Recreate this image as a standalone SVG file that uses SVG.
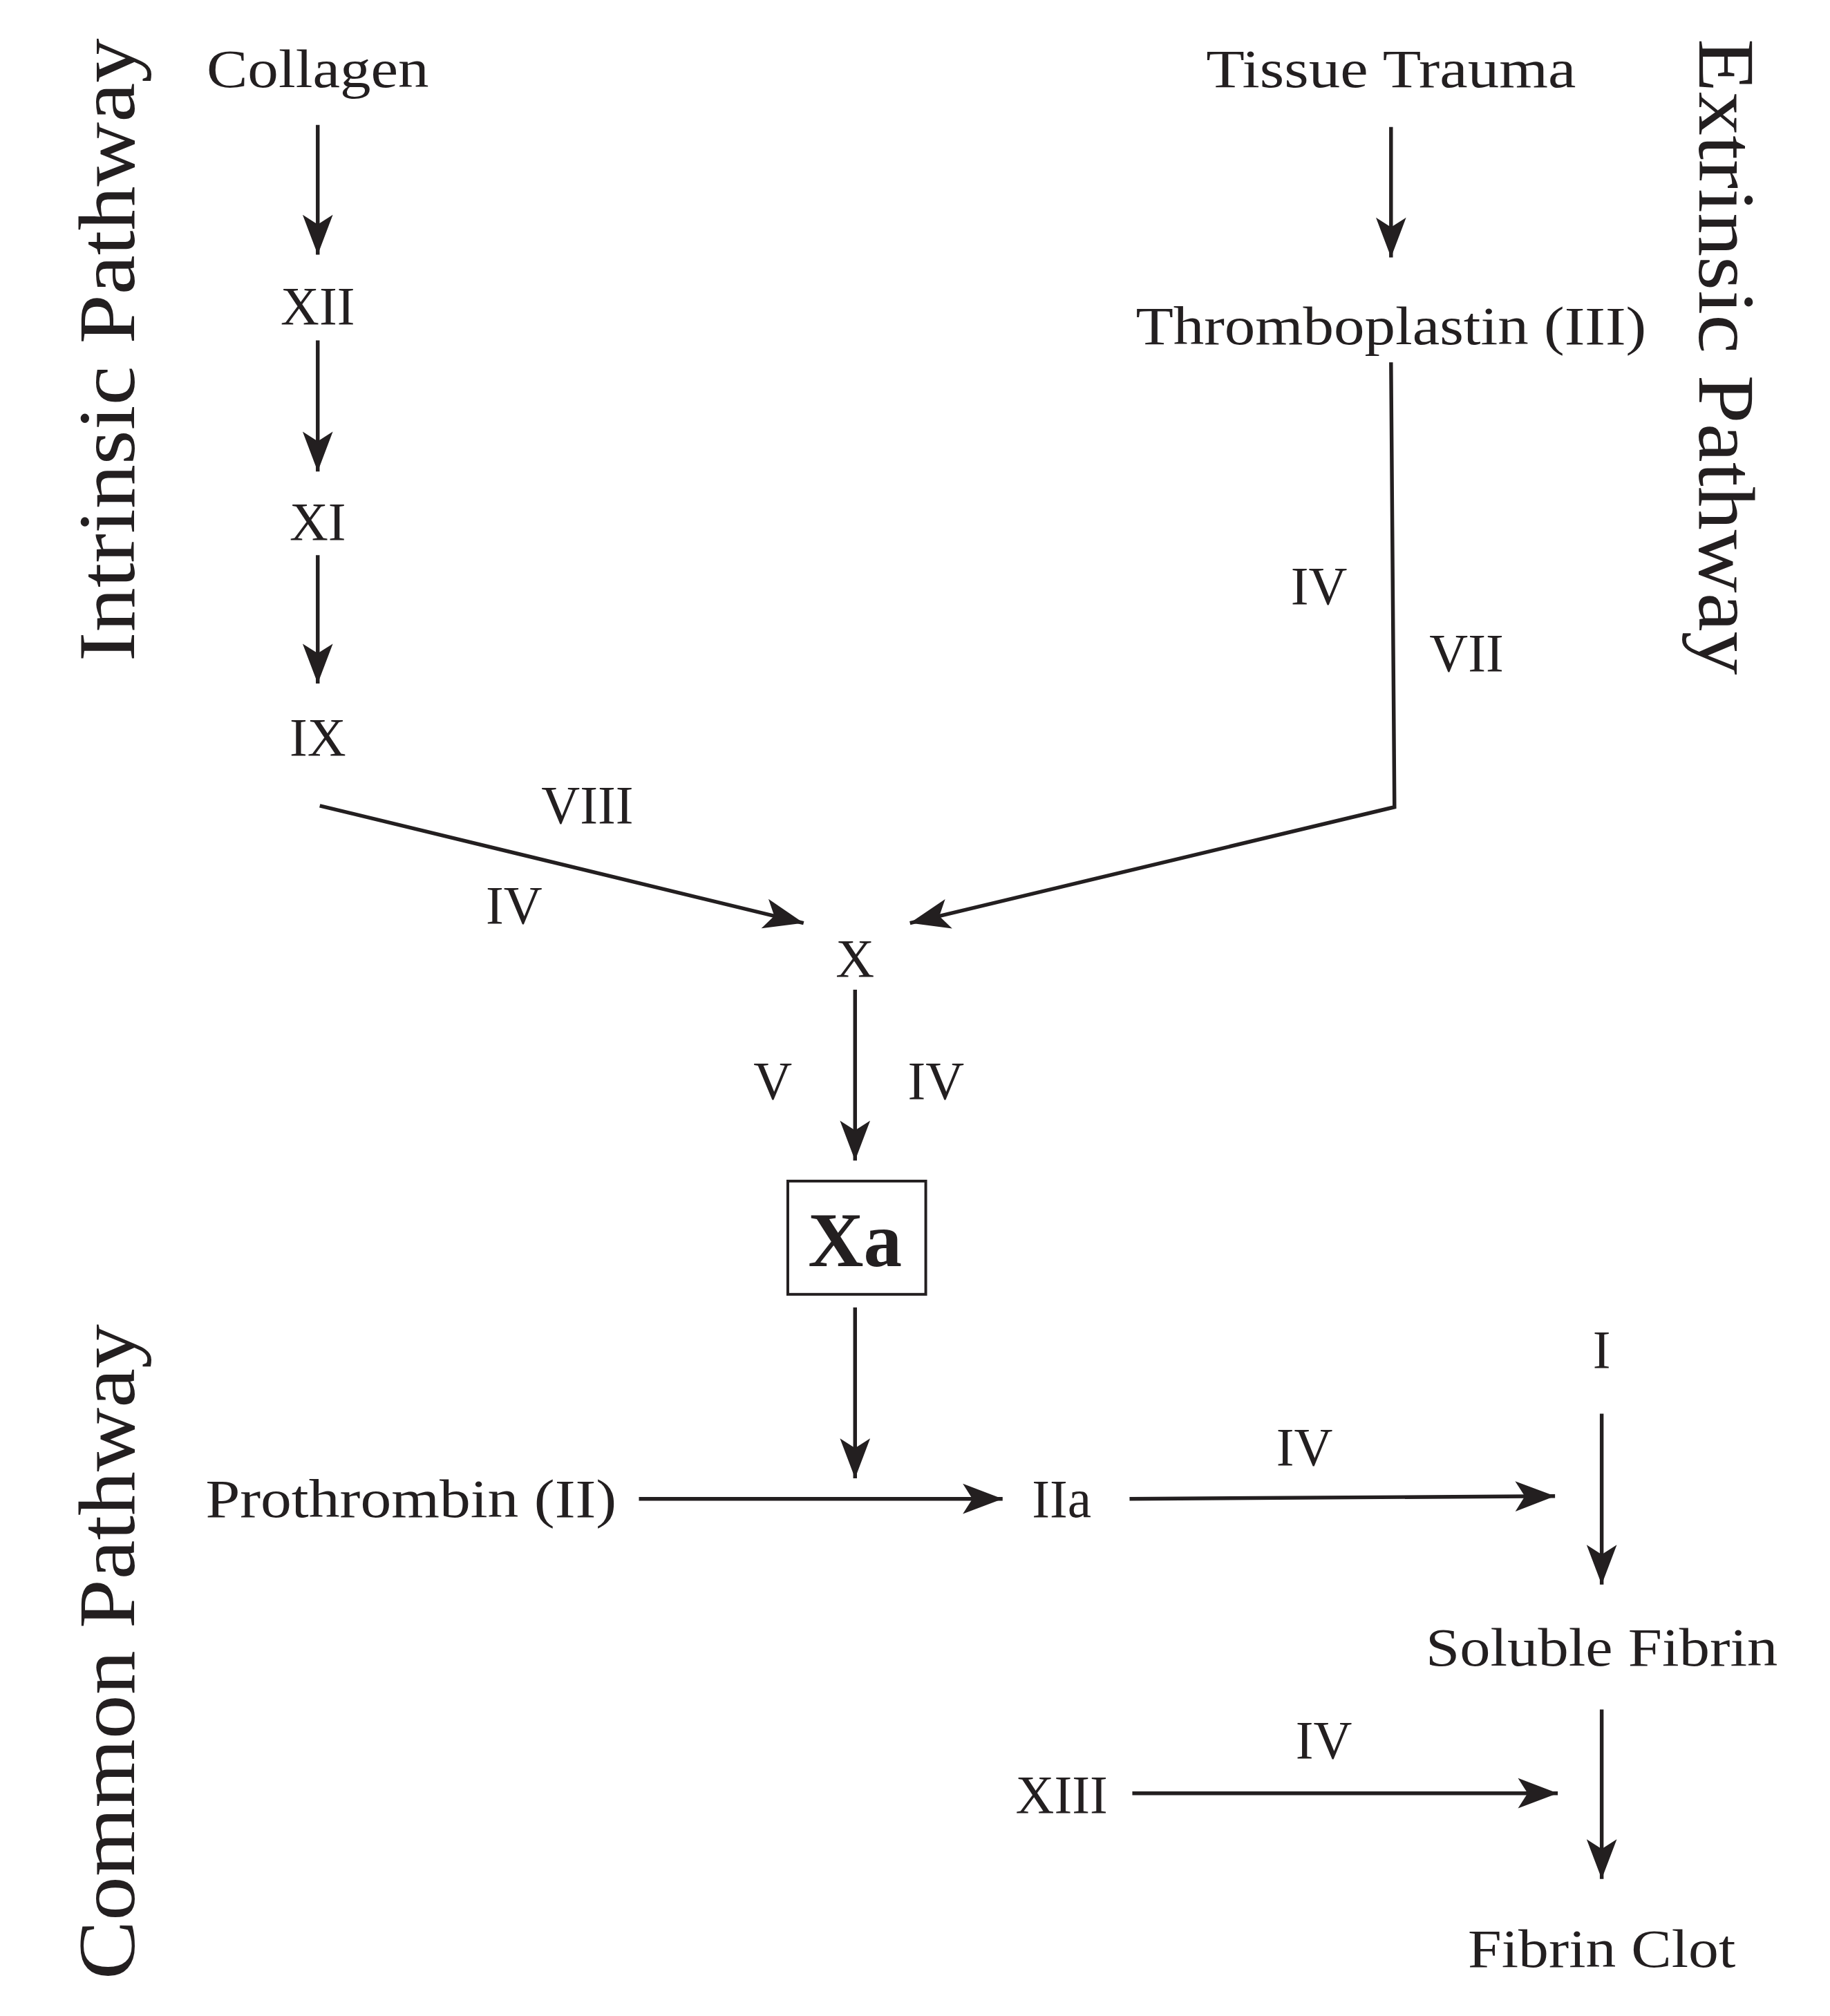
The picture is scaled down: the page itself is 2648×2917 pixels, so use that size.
<svg xmlns="http://www.w3.org/2000/svg" width="2648" height="2917" viewBox="0 0 2648 2917">
<style>
text{font-family:"Liberation Serif","DejaVu Serif",serif;fill:#231f20;font-size:78px;text-anchor:middle}
.big{font-size:118px}
.xa{font-size:112px;font-weight:bold}
.ln{stroke:#231f20;stroke-width:5.5;fill:none}
</style>
<defs>
<marker id="ah" markerUnits="userSpaceOnUse" markerWidth="70" markerHeight="60" viewBox="-60 -30 70 60" refX="0" refY="0" orient="auto">
<path d="M0,0 L-58,-22 L-44,0 L-58,22 Z" fill="#231f20"/>
</marker>
</defs>
<rect width="2648" height="2917" fill="#fff"/>
<g transform="scale(0.993)">
<g id="labels">
<text class="big" transform="translate(195,510) rotate(-90)" textLength="908" lengthAdjust="spacingAndGlyphs">Intrinsic Pathway</text>
<text class="big" transform="translate(2476,520) rotate(90)" textLength="927" lengthAdjust="spacingAndGlyphs">Extrinsic Pathway</text>
<text class="big" transform="translate(195,2407) rotate(-90)" textLength="955" lengthAdjust="spacingAndGlyphs">Common Pathway</text>
</g>
<g id="connectors">
<line class="ln" x1="463" y1="182" x2="463" y2="371" marker-end="url(#ah)"/>
<line class="ln" x1="463" y1="496" x2="463" y2="687" marker-end="url(#ah)"/>
<line class="ln" x1="463" y1="809" x2="463" y2="996" marker-end="url(#ah)"/>
<line class="ln" x1="466" y1="1174" x2="1171" y2="1345" marker-end="url(#ah)"/>
<line class="ln" x1="2027" y1="185" x2="2027" y2="375" marker-end="url(#ah)"/>
<polyline class="ln" points="2027,528 2032,1176 1326,1345" marker-end="url(#ah)"/>
<line class="ln" x1="1246" y1="1442" x2="1246" y2="1691" marker-end="url(#ah)"/>
<line class="ln" x1="1246" y1="1905" x2="1246" y2="2154" marker-end="url(#ah)"/>
<line class="ln" x1="931" y1="2184" x2="1461" y2="2184" marker-end="url(#ah)"/>
<line class="ln" x1="1646" y1="2184" x2="2266" y2="2180" marker-end="url(#ah)"/>
<line class="ln" x1="2334" y1="2060" x2="2334" y2="2309" marker-end="url(#ah)"/>
<line class="ln" x1="2334" y1="2491" x2="2334" y2="2738" marker-end="url(#ah)"/>
<line class="ln" x1="1650" y1="2613" x2="2270" y2="2613" marker-end="url(#ah)"/>
</g>
<g id="n-collagen"><text x="463" y="127" textLength="324" lengthAdjust="spacingAndGlyphs">Collagen</text></g>
<g id="n-xii"><text x="463" y="472">XII</text></g>
<g id="n-xi"><text x="463" y="787">XI</text></g>
<g id="n-ix"><text x="463" y="1101">IX</text></g>
<g id="l-viii"><text x="856" y="1199">VIII</text></g>
<g id="l-iv1"><text x="749" y="1345">IV</text></g>
<g id="n-trauma"><text x="2027" y="127" textLength="539" lengthAdjust="spacingAndGlyphs">Tissue Trauma</text></g>
<g id="n-thrombo"><text x="2027" y="502" textLength="744" lengthAdjust="spacingAndGlyphs">Thromboplastin (III)</text></g>
<g id="l-iv2"><text x="1922" y="880">IV</text></g>
<g id="l-vii"><text x="2137" y="978">VII</text></g>
<g id="n-x"><text x="1246" y="1423">X</text></g>
<g id="l-v"><text x="1126" y="1601">V</text></g>
<g id="l-iv3"><text x="1364" y="1601">IV</text></g>
<g id="n-xa"><rect x="1148" y="1721" width="201" height="165" fill="none" stroke="#231f20" stroke-width="4"/><text class="xa" x="1246" y="1845">Xa</text></g>
<g id="n-prothrombin"><text x="599" y="2210" textLength="599" lengthAdjust="spacingAndGlyphs">Prothrombin (II)</text></g>
<g id="n-iia"><text x="1547" y="2210">IIa</text></g>
<g id="l-iv4"><text x="1901" y="2135">IV</text></g>
<g id="n-i"><text x="2334" y="1993">I</text></g>
<g id="n-soluble"><text x="2334" y="2427" textLength="513" lengthAdjust="spacingAndGlyphs">Soluble Fibrin</text></g>
<g id="n-xiii"><text x="1547" y="2641">XIII</text></g>
<g id="l-iv5"><text x="1929" y="2562">IV</text></g>
<g id="n-clot"><text x="2334" y="2866" textLength="390" lengthAdjust="spacingAndGlyphs">Fibrin Clot</text></g>
</g>
</svg>
